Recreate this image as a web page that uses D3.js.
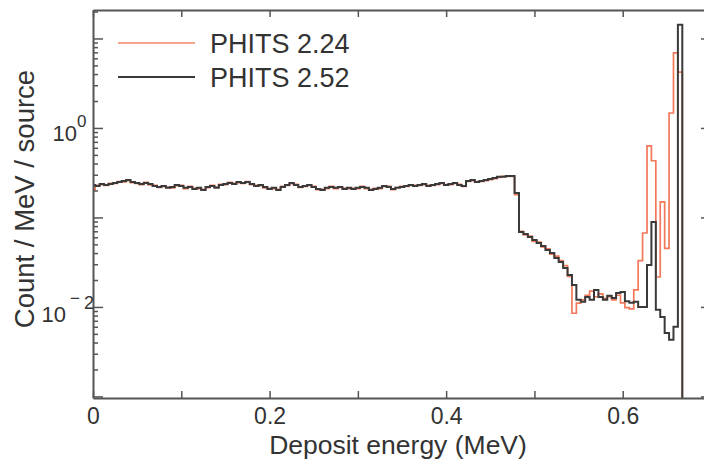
<!DOCTYPE html>
<html><head><meta charset="utf-8">
<script src="https://cdn.jsdelivr.net/npm/d3@7"></script>
<style>
body{margin:0;background:#fff;}
svg{display:block;font-family:"Liberation Sans",Arial,Helvetica,sans-serif;}
</style>
</head><body>
<svg id="chart" width="704" height="459"></svg>
<script>
// ---------------- data ----------------
const binWidth = 0.005; // MeV; bin k is centred on k*binWidth
const seriesNames = ["PHITS 2.24", "PHITS 2.52"];
const seriesColors = ["#f2785a", "#3a3a3a"];
const legendColors = ["#f7a48c", "#3a3a3a"];

const phits224 = [
 0.205,0.229,0.233,0.228,0.240,0.240,0.252,0.250,0.258,0.245,
 0.240,0.233,0.246,0.231,0.228,0.216,0.222,0.218,0.214,0.226,
 0.229,0.210,0.222,0.212,0.210,0.206,0.215,0.228,0.218,0.235,
 0.233,0.247,0.240,0.245,0.240,0.252,0.233,0.228,0.226,0.214,
 0.212,0.210,0.206,0.222,0.228,0.238,0.235,0.216,0.222,0.228,
 0.222,0.205,0.206,0.210,0.222,0.210,0.216,0.212,0.210,0.212,
 0.210,0.222,0.210,0.206,0.212,0.210,0.222,0.222,0.205,0.216,
 0.222,0.222,0.228,0.228,0.228,0.233,0.228,0.228,0.233,0.240,
 0.233,0.233,0.240,0.235,0.222,0.252,0.258,0.252,0.252,0.258,
 0.265,0.272,0.280,0.288,0.287,0.288,0.180,
 0.0700,0.0640,0.0620,0.0540,0.0530,0.0470,0.0445,0.0390,0.0370,0.0330,0.0290,0.0220,
 0.0085,0.0110,0.0120,0.0135,0.0150,0.0130,0.0140,0.0125,0.0130,0.0120,0.0135,
 0.0111,0.0098,0.0095,0.0155,0.033,0.067,0.63,0.43,0.0216,0.149,0.045,1.47,6.9,4.2
];

const phits252 = [
 0.231,0.225,0.237,0.231,0.237,0.243,0.249,0.256,0.262,0.249,
 0.243,0.237,0.243,0.237,0.225,0.219,0.225,0.214,0.219,0.231,
 0.225,0.214,0.219,0.208,0.214,0.203,0.219,0.225,0.214,0.231,
 0.237,0.243,0.237,0.249,0.243,0.249,0.237,0.225,0.231,0.219,
 0.208,0.214,0.203,0.219,0.231,0.243,0.231,0.219,0.225,0.231,
 0.219,0.208,0.203,0.214,0.219,0.214,0.219,0.208,0.214,0.208,
 0.214,0.219,0.214,0.203,0.208,0.214,0.225,0.219,0.208,0.214,
 0.219,0.225,0.231,0.225,0.231,0.237,0.225,0.231,0.237,0.243,
 0.231,0.237,0.243,0.231,0.225,0.256,0.262,0.249,0.256,0.262,
 0.269,0.276,0.284,0.284,0.291,0.291,0.188,
 0.0689,0.0654,0.0605,0.0561,0.0519,0.0481,0.0434,0.0401,0.0352,0.0318,0.0273,0.0228,
 0.0176,0.0120,0.0114,0.0129,0.0120,0.0155,0.0129,0.0120,0.0133,0.0126,0.0143,
 0.0147,0.0116,0.0111,0.0114,0.0100,0.0100,0.0295,0.089,0.0093,0.0077,0.0051,0.0043,0.0060,14.2
];

const xDomain = [0, 0.7];
const yDomain = [0.00096, 20.8];
const xTicks = [0, 0.1, 0.2, 0.3, 0.4, 0.5, 0.6, 0.7];
const xTickLabels = {0: "0", 0.2: "0.2", 0.4: "0.4", 0.6: "0.6"};
const yDecades = [0.001, 0.01, 0.1, 1, 10];
const yLabels = [{v: 1, base: "10", exp: "0"}, {v: 0.01, base: "10", exp: "−2"}];
const xTitle = "Deposit energy (MeV)";
const yTitle = "Count / MeV / source";

// ---------------- layout ----------------
const L = 93, R = 711, T = 10, B = 398;
const svg = d3.select("#chart");
const x = d3.scaleLinear().domain(xDomain).range([L, R]);
const y = d3.scaleLog().domain(yDomain).range([B, T]);

const yMinor = [];
yDecades.forEach(d => { for (let m = 2; m <= 9; m++) { const v = d * m; if (v >= yDomain[0] && v <= yDomain[1]) yMinor.push(v); } });
const yAllTicks = yDecades.filter(v => v >= yDomain[0] && v <= yDomain[1]).concat(yMinor);
const isMajor = v => yDecades.some(d => Math.abs(d - v) / d < 1e-9);

svg.append("clipPath").attr("id", "clip").append("rect")
  .attr("x", L).attr("y", T).attr("width", R - L).attr("height", B - T);

// ---------------- histograms ----------------
function stepPoints(vals) {
  const pts = [];
  vals.forEach((v, k) => {
    const e0 = Math.max(xDomain[0], (k - 0.5) * binWidth);
    const e1 = (k + 0.5) * binWidth;
    pts.push([x(e0), y(v)], [x(e1), y(v)]);
  });
  const last = (vals.length - 0.5) * binWidth;
  pts.push([x(last), B + 5]);
  return pts;
}
const line = d3.line();
const gData = svg.append("g").attr("clip-path", "url(#clip)");
[phits224, phits252].forEach((vals, i) => {
  gData.append("path").attr("d", line(stepPoints(vals)))
    .attr("fill", "none").attr("stroke", seriesColors[i])
    .attr("stroke-width", i === 0 ? 1.7 : 2).attr("stroke-linejoin", "miter");
});

// ---------------- axes ----------------
const axisColor = "#555";
function styleAxis(g) {
  g.select(".domain").attr("stroke", axisColor).attr("stroke-width", 2);
  g.selectAll(".tick line").attr("stroke", axisColor).attr("stroke-width", 1.5);
}
const gBottom = svg.append("g").attr("transform", `translate(0,${B})`)
  .call(d3.axisBottom(x).tickValues(xTicks).tickSizeInner(-7).tickSizeOuter(0).tickPadding(10)
    .tickFormat(d => xTickLabels[d] !== undefined ? xTickLabels[d] : ""));
styleAxis(gBottom);
gBottom.attr("font-family", null);
gBottom.selectAll(".tick text").attr("font-size", 23).attr("fill", "#333");

const gTop = svg.append("g").attr("transform", `translate(0,${T})`)
  .call(d3.axisTop(x).tickValues(xTicks).tickSizeInner(-7).tickSizeOuter(0).tickFormat(""));
styleAxis(gTop);

function yAxis(gen, xpos, dir) {
  const g = svg.append("g").attr("transform", `translate(${xpos},0)`)
    .call(gen(y).tickValues(yAllTicks).tickSizeInner(-10).tickSizeOuter(0).tickFormat(""));
  styleAxis(g);
  g.selectAll(".tick line").attr("x2", d => dir * (isMajor(d) ? 10 : 5));
  return g;
}
yAxis(d3.axisLeft, L, 1);
yAxis(d3.axisRight, R, -1);

// y tick labels with superscripts
const yl = svg.append("g").attr("fill", "#333");
yLabels.forEach(t => {
  const yy = y(t.v);
  if (t.exp === "0") {
    yl.append("text").attr("x", 77).attr("y", yy + 13).attr("text-anchor", "end")
      .attr("font-size", 22).text(t.base);
    yl.append("text").attr("x", 77).attr("y", yy - 1).attr("font-size", 17).text(t.exp);
  } else {
    yl.append("text").attr("x", 66).attr("y", yy + 15).attr("text-anchor", "end")
      .attr("font-size", 22).text(t.base);
    yl.append("text").attr("x", 70).attr("y", yy - 3).attr("font-size", 17).text(t.exp.charAt(0));
    yl.append("text").attr("x", 84).attr("y", yy + 2).attr("font-size", 18).text(t.exp.slice(1));
  }
});

// titles
svg.append("text").attr("x", 398).attr("y", 453.5).attr("text-anchor", "middle")
  .attr("font-size", 26.5).attr("fill", "#333").text(xTitle);
svg.append("text").attr("transform", `translate(34,${199}) rotate(-90)`).attr("text-anchor", "middle")
  .attr("font-size", 27.5).attr("fill", "#333").text(yTitle);

// legend
const lg = svg.append("g");
seriesNames.forEach((name, i) => {
  const ly = [43, 77][i];
  lg.append("line").attr("x1", 118).attr("x2", 195).attr("y1", ly).attr("y2", ly)
    .attr("stroke", legendColors[i]).attr("stroke-width", 2.2);
  lg.append("text").attr("x", 210).attr("y", ly + 10).attr("font-size", 27)
    .attr("fill", "#333").text(name);
});
</script>
</body></html>
